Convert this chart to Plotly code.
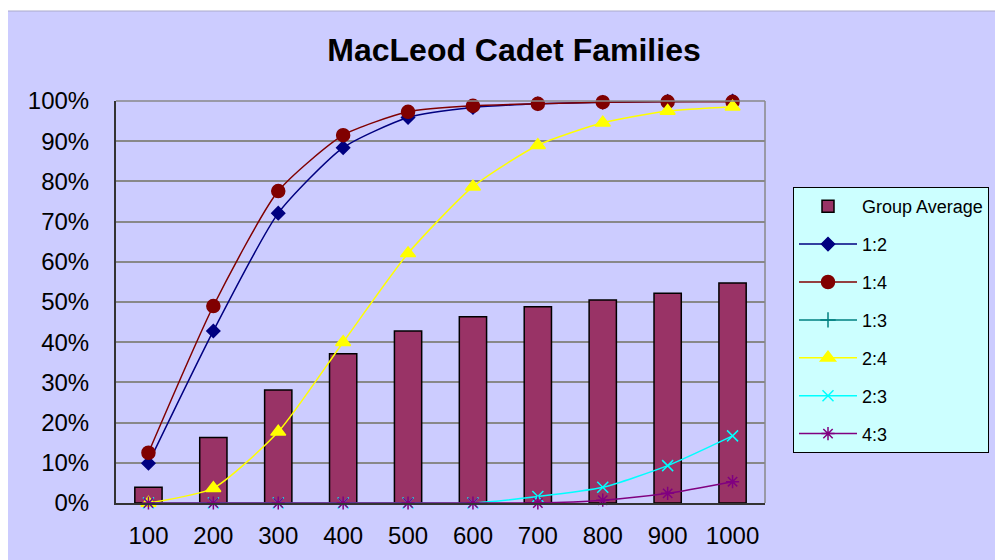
import plotly.graph_objects as go

categories = ["100", "200", "300", "400", "500", "600", "700", "800", "900", "1000"]
group_average = [3.9, 16.3, 28.1, 37.1, 42.8, 46.3, 48.8, 50.5, 52.2, 54.7]
s_1_2 = [9.9, 42.8, 72.1, 88.4, 95.9, 98.4, 99.3, 99.7, 99.9, 100.0]
s_1_4 = [12.5, 49.0, 77.6, 91.5, 97.3, 98.8, 99.3, 99.7, 99.8, 99.8]
s_1_3 = [None] * 10  # no visible points in the reference; legend entry only
s_2_4 = [0.0, 3.7, 17.7, 40.0, 62.1, 78.7, 89.0, 94.6, 97.5, 98.6]
s_2_3 = [0, 0, 0, 0, 0, 0, 1.6, 3.9, 9.3, 16.7]
s_4_3 = [0, 0, 0, 0, 0, 0, 0, 0.7, 2.4, 5.3]
y_ticks = [0, 10, 20, 30, 40, 50, 60, 70, 80, 90, 100]
y_tick_labels = ["0%", "10%", "20%", "30%", "40%", "50%", "60%", "70%", "80%", "90%", "100%"]

FONT = "Liberation Sans, Arial, sans-serif"

fig = go.Figure()
fig.add_trace(go.Bar(
    x=categories, y=group_average, name="Group Average", width=0.42,
    marker=dict(color="#993366", line=dict(color="black", width=1.5)),
    legendgroup="g0",
))

line_series = [
    ("1:2", s_1_2, "#000080", "diamond", 10),
    ("1:4", s_1_4, "#800000", "circle", 13),
    ("1:3", s_1_3, "#008080", "cross-thin-open", 11),
    ("2:4", s_2_4, "#FFFF00", "triangle-up", 13),
    ("2:3", s_2_3, "#00FFFF", "x-thin-open", 11),
    ("4:3", s_4_3, "#800080", "asterisk-open", 11),
]
for i, (name, vals, color, sym, size) in enumerate(line_series):
    fig.add_trace(go.Scatter(
        x=categories, y=vals, name=name, mode="lines+markers",
        line=dict(color=color, width=1.5, shape="spline", smoothing=0.6),
        marker=dict(symbol=sym, size=size, color=color,
                    line=dict(color=color, width=1.5)),
        cliponaxis=False, legendgroup=f"g{i+1}",
    ))

# the page body adds an 8px offset; work in figure pixel space
OFF = 8
W, H = 1003 - OFF, 560 - OFF
L, T = 116 - OFF, 101 - OFF
R = W - (765 - OFF)
B = H - (503 - OFF)
pw, ph = W - L - R, H - T - B
def px(x):
    return (x - OFF - L) / pw
def py(y):
    return (H - B - (y - OFF)) / ph

fig.add_shape(type="rect", xref="paper", yref="paper",
              x0=px(OFF - 2), x1=px(1010), y0=py(11), y1=py(570),
              fillcolor="#CCCCFF", line=dict(color="#aaaacc", width=1), layer="below")

fig.update_layout(
    width=W, height=H,
    margin=dict(l=L, r=R, t=T, b=B, autoexpand=False),
    paper_bgcolor="white",
    plot_bgcolor="#CCCCFF",
    barmode="overlay",
    font=dict(family=FONT, color="black"),
    title=dict(text="<b>MacLeod Cadet Families</b>", x=(514 - OFF) / W, xanchor="center",
               y=1 - (50 - OFF) / H, yanchor="middle", xref="container", yref="container",
               font=dict(family=FONT, size=32, color="black")),
    showlegend=True,
    legend=dict(
        x=px(793), xanchor="left", y=py(187), yanchor="top",
        bgcolor="#CCFFFF", bordercolor="black", borderwidth=1,
        font=dict(family=FONT, size=18, color="black"),
        itemwidth=58, tracegroupgap=11.5, traceorder="grouped",
    ),
    xaxis=dict(
        type="category", categoryorder="array", categoryarray=categories,
        range=[-0.5, len(categories) - 0.5], autorange=False,
        showline=True, linecolor="#333333", linewidth=2, mirror=False,
        showgrid=False, ticks="", tickfont=dict(family=FONT, size=24, color="black"),
        ticklabelstandoff=10,
    ),
    yaxis=dict(
        range=[0, 100], autorange=False, tickmode="array", tickvals=y_ticks, ticktext=y_tick_labels,
        showline=True, linecolor="#333333", linewidth=2,
        showgrid=True, gridcolor="#888888", gridwidth=1.5,
        ticks="", tickfont=dict(family=FONT, size=24, color="black"),
        ticklabelstandoff=20, zeroline=False,
    ),
)
# gray border on top and right of plot area
fig.add_shape(type="line", xref="paper", yref="paper", x0=0, x1=1, y0=1, y1=1,
              line=dict(color="#888888", width=1.5))
fig.add_shape(type="line", xref="paper", yref="paper", x0=1, x1=1, y0=0, y1=1,
              line=dict(color="#888888", width=1.5))

fig.write_html("out.html")
